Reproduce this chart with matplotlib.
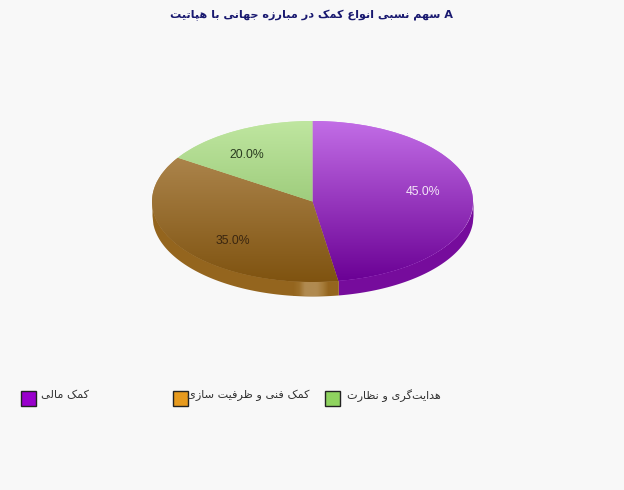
import numpy as np
import matplotlib
matplotlib.use("Agg")
import matplotlib.pyplot as plt
from matplotlib.patches import Ellipse, Polygon, Rectangle
from matplotlib.colors import LinearSegmentedColormap


TITLE = "A سهم نسبی انواع کمک در مبارزه جهانی با هپاتیت"
CATEGORIES = ["کمک مالی", "کمک فنی و ظرفیت سازی", "هدایت‌گری و نظارت"]
VALUES = [45.0, 35.0, 20.0]
LEGEND_COLORS = ["#9900cc", "#e69a1e", "#8fd35f"]

TOP_COLORS = ["#c26de6", "#b8925c", "#bfe6a0"]
BOTTOM_COLORS = ["#6a0094", "#7f5310", "#7fb45a"]
SIDE_COLORS = ["#760c9c", "#94651e"]
LABEL_COLORS = ["#f3e6f8", "#3a2610", "#2a3c20"]

W, H = 624, 490
CX, CY = 312.5, H - 201.5
RX, RY = 160.5, 80.5
DEPTH = 14

# fonts here do no arabic shaping, so pick the presentation forms by hand
FOUR_FORMS = {
    "س": 0xFEB1, "ه": 0xFEE9, "م": 0xFEE1, "ن": 0xFEE5, "ب": 0xFE8F,
    "ع": 0xFEC9, "ج": 0xFE9D, "ت": 0xFE95, "ل": 0xFEDD, "ف": 0xFED1,
    "ظ": 0xFEC5, "ی": 0xFBFC, "ک": 0xFB8E, "گ": 0xFB92, "پ": 0xFB56,
}
TWO_FORMS = {
    "ا": 0xFE8D, "و": 0xFEED, "د": 0xFEA9, "ر": 0xFEAD, "ز": 0xFEAF,
}


def shape(text):
    letters = list(text)
    out = []
    for i, ch in enumerate(letters):
        prev_ch = letters[i - 1] if i > 0 else ""
        next_ch = letters[i + 1] if i + 1 < len(letters) else ""
        joins_prev = prev_ch in FOUR_FORMS
        joins_next = next_ch in FOUR_FORMS or next_ch in TWO_FORMS
        if ch in FOUR_FORMS:
            if joins_prev and joins_next:
                out.append(chr(FOUR_FORMS[ch] + 3))
            elif joins_next:
                out.append(chr(FOUR_FORMS[ch] + 2))
            elif joins_prev:
                out.append(chr(FOUR_FORMS[ch] + 1))
            else:
                out.append(chr(FOUR_FORMS[ch]))
        elif ch in TWO_FORMS:
            out.append(chr(TWO_FORMS[ch] + (1 if joins_prev else 0)))
        elif ch != "\u200c":
            out.append(ch)
    return "".join(reversed(out))


def ellipse_radius(theta):
    return RX * RY / np.sqrt((RY * np.cos(theta)) ** 2 + (RX * np.sin(theta)) ** 2)


def top_edge(x):
    return CY - RY * np.sqrt(np.clip(1 - ((x - CX) / RX) ** 2, 0, 1))


fig = plt.figure(figsize=(W / 100, H / 100), dpi=100, facecolor="#f8f8f8")
ax = fig.add_axes([0, 0, 1, 1])

# slices keep their on-screen polar angle and are cut off by the ellipse
wedges, _ = ax.pie(VALUES, center=(CX, CY), radius=320, startangle=90, counterclock=False)

outline = Ellipse((CX, CY), 2 * RX, 2 * RY, facecolor="none", edgecolor="none")
ax.add_patch(outline)

# rim under the top surface
split = np.radians(wedges[0].theta1)
split_x = CX + ellipse_radius(split) * np.cos(split)
xs_brown = np.linspace(CX - RX, split_x, 200)
xs_purple = np.linspace(split_x, CX + RX, 200)
ax.fill_between(xs_purple, top_edge(xs_purple) - DEPTH, top_edge(xs_purple) + 1, color=SIDE_COLORS[0], lw=0, zorder=1)
ax.fill_between(xs_brown, top_edge(xs_brown) - DEPTH, top_edge(xs_brown) + 1, color=SIDE_COLORS[1], lw=0, zorder=1)

# lighter block on the rim
xs_block = np.linspace(293, 329, 60)
band = Polygon(
    np.r_[np.c_[xs_block, top_edge(xs_block)], np.c_[xs_block[::-1], top_edge(xs_block[::-1]) - DEPTH]],
    facecolor="none", edgecolor="none",
)
ax.add_patch(band)
block_cmap = LinearSegmentedColormap.from_list(
    "block", ["#94651e", "#9c6f2a", "#b08a50", "#b08a50", "#b08a50", "#a67c3a", "#94651e"]
)
block = ax.imshow(
    np.linspace(0, 1, 64)[None, :], cmap=block_cmap, aspect="auto",
    extent=(293, 329, CY - RY - DEPTH, CY - RY + 30), zorder=1.5,
)
block.set_clip_path(band)

for i, wedge in enumerate(wedges):
    wedge.set_facecolor(TOP_COLORS[i])
    wedge.set_zorder(2)
    wedge.set_clip_on(True)
    wedge.set_clip_path(outline)
    thetas = np.radians(np.linspace(wedge.theta1, wedge.theta2, 240))
    radii = ellipse_radius(thetas)
    points = np.c_[CX + radii * np.cos(thetas), CY + radii * np.sin(thetas)]
    region = Polygon(np.r_[[[CX, CY]], points], facecolor="none", edgecolor="none")
    ax.add_patch(region)
    cmap = LinearSegmentedColormap.from_list("slice", [TOP_COLORS[i], BOTTOM_COLORS[i]])
    shade = ax.imshow(
        np.linspace(0, 1, 256)[:, None], cmap=cmap, aspect="auto",
        extent=(CX - RX, CX + RX, CY - RY, CY + RY), zorder=3,
    )
    shade.set_clip_path(region)

# value labels sit at 70% along the ellipse, at the middle of each slice
start = 0.0
total = sum(VALUES)
for i, value in enumerate(VALUES):
    mid = 2 * np.pi * (start + value / 2) / total
    start += value
    ax.text(
        CX + 0.7 * RX * np.sin(mid), CY + 0.7 * RY * np.cos(mid) + 0.5,
        f"{value:.1f}%", ha="center", va="center",
        family="Liberation Sans", fontsize=8.8, color=LABEL_COLORS[i], zorder=5,
    )

ax.text(311.5, H - 15, shape(TITLE), ha="center", va="center", family="DejaVu Sans",
        fontweight="bold", fontsize=8.1, color="#191970")

swatch_x = [20.5, 172.5, 324.5]
text_x = [89, 309.5, 441]
for i, name in enumerate(CATEGORIES):
    ax.add_patch(Rectangle((swatch_x[i], H - 405.5), 15, 15, facecolor=LEGEND_COLORS[i],
                           edgecolor="#222222", linewidth=1))
    ax.text(text_x[i], H - 395.5, shape(name), ha="right", va="center", family="DejaVu Sans",
            fontsize=8.1, color="#333333")

ax.set_xlim(0, W)
ax.set_ylim(0, H)
ax.axis("off")

fig.savefig("out.png", dpi=100, facecolor=fig.get_facecolor())
plt.close(fig)
